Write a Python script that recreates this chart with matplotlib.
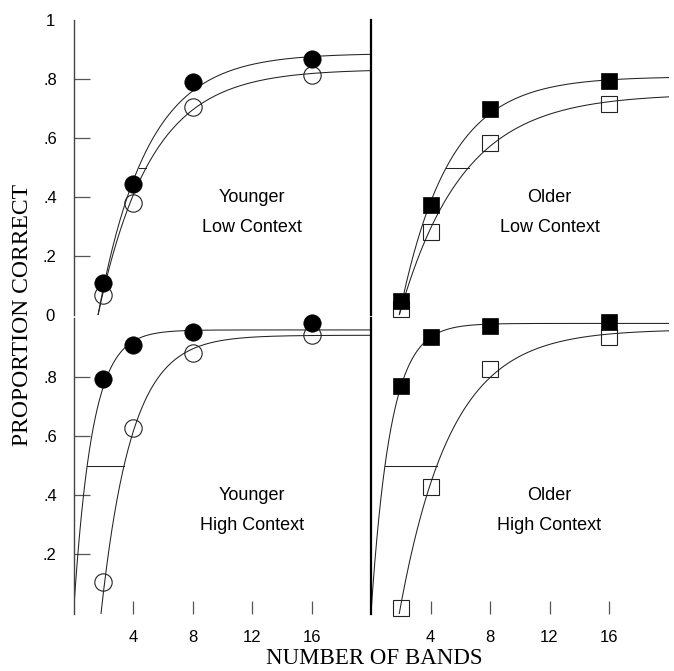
import numpy as np
import matplotlib.pyplot as plt

# number of bands and proportion correct
bands = [2, 4, 8, 16]

young_low_filled = [0.107, 0.443, 0.791, 0.867]
young_low_open = [0.068, 0.381, 0.704, 0.814]
old_low_filled = [0.048, 0.373, 0.697, 0.793]
old_low_open = [0.020, 0.280, 0.584, 0.715]
young_high_filled = [0.791, 0.907, 0.950, 0.980]
young_high_open = [0.107, 0.626, 0.879, 0.941]
old_high_filled = [0.770, 0.935, 0.970, 0.985]
old_high_open = [0.020, 0.428, 0.826, 0.935]

# fitted curves: (asymptote, onset, 50% threshold) for filled and open series
young_low_fit = [(0.887, 1.65, 4.37), (0.833, 1.65, 4.89)]
old_low_fit = [(0.808, 1.90, 5.06), (0.750, 1.90, 6.56)]
young_high_fit = [(0.958, 0.00, 0.92), (0.940, 1.85, 3.40)]
old_high_fit = [(0.980, 0.00, 0.94), (0.960, 1.90, 4.43)]

y_ticks = [0, 0.2, 0.4, 0.6, 0.8, 1]
y_ticklabels = ['0', '.2', '.4', '.6', '.8', '1']
x_ticks = [4, 8, 12, 16]
x_ticklabels = ['4', '8', '12', '16']

SANS = 'Liberation Sans'
SERIF = 'Liberation Serif'
LINE = '#222222'


def fit_curve(a, x0, x50):
    b = (x50 - x0) / -np.log(1 - 0.5 / a)
    x = np.linspace(x0, 20, 300)
    return x, a * (1 - np.exp(-(x - x0) / b))


def draw_panel(ax, filled, opened, fits, marker, group, context):
    for a, x0, x50 in fits:
        x, y = fit_curve(a, x0, x50)
        ax.plot(x, y, color=LINE, lw=0.75, zorder=2)
    # threshold segment between the two fits
    ax.plot([fits[0][2], fits[1][2]], [0.5, 0.5], color=LINE, lw=0.75, zorder=2)
    ms = 12.5 if marker == 'o' else 11.5
    ax.plot(bands, filled, marker, color='black', ms=ms, mew=0.5,
            linestyle='none', zorder=4, clip_on=False)
    ax.plot(bands, opened, marker, mfc='none', mec=LINE, ms=ms, mew=0.8,
            linestyle='none', zorder=3, clip_on=False)
    ax.text(12, 0.40, group, ha='center', va='center', fontsize=13, family=SANS)
    ax.text(12, 0.297, context, ha='center', va='center', fontsize=13, family=SANS)


fig = plt.figure(figsize=(6.74, 6.71), dpi=100)
W, H = 674, 671
pw = 297.5 / W
lefts = [73.5 / W, 371 / W]
top_rect = ((H - 315) / H, 295 / H)
bot_rect = ((H - 613.5) / H, 296 / H)

axes = {}
for row, (b, h) in zip(['top', 'bot'], [top_rect, bot_rect]):
    for col, l in zip(['left', 'right'], lefts):
        ax = fig.add_axes([l, b, pw, h])
        ax.set_xlim(0, 20)
        ax.set_ylim(0, 1)
        ax.patch.set_alpha(0)
        for s in ['top', 'right', 'bottom']:
            ax.spines[s].set_visible(False)
        if col == 'left':
            ax.spines['left'].set_linewidth(1.0)
            ax.spines['left'].set_color('#444444')
        else:
            ax.spines['left'].set_linewidth(1.6)
            ax.spines['left'].set_color('black')
        axes[(row, col)] = ax

draw_panel(axes[('top', 'left')], young_low_filled, young_low_open, young_low_fit,
           'o', 'Younger', 'Low Context')
draw_panel(axes[('top', 'right')], old_low_filled, old_low_open, old_low_fit,
           's', 'Older', 'Low Context')
draw_panel(axes[('bot', 'left')], young_high_filled, young_high_open, young_high_fit,
           'o', 'Younger', 'High Context')
draw_panel(axes[('bot', 'right')], old_high_filled, old_high_open, old_high_fit,
           's', 'Older', 'High Context')

for (row, col), ax in axes.items():
    ax.tick_params(direction='in', color='#555555', width=0.9, labelsize=12)
    if col == 'left':
        if row == 'top':
            ax.set_yticks(y_ticks, y_ticklabels, fontfamily=SANS)
            ticks = ax.yaxis.get_major_ticks()
            ticks[0].tick1line.set_visible(False)
            ticks[-1].tick1line.set_visible(False)
        else:
            ax.set_yticks(y_ticks[1:-1], y_ticklabels[1:-1], fontfamily=SANS)
        ax.tick_params(axis='y', length=11.5, pad=17)
        for lab in ax.get_yticklabels():
            lab.set_horizontalalignment('center')
    else:
        ax.set_yticks([])
    if row == 'bot':
        ax.set_xticks(x_ticks, x_ticklabels, fontfamily=SANS)
        ax.tick_params(axis='x', length=9.5, pad=12)
    else:
        ax.set_xticks([])

fig.text(22.5 / W, (H - 315) / H, 'PROPORTION CORRECT', rotation=90,
         ha='center', va='center', fontsize=17, family=SERIF)
fig.text(374 / W, (H - 659) / H, 'NUMBER OF BANDS',
         ha='center', va='center', fontsize=16.5, family=SERIF)

fig.savefig('out.png', dpi=100)
